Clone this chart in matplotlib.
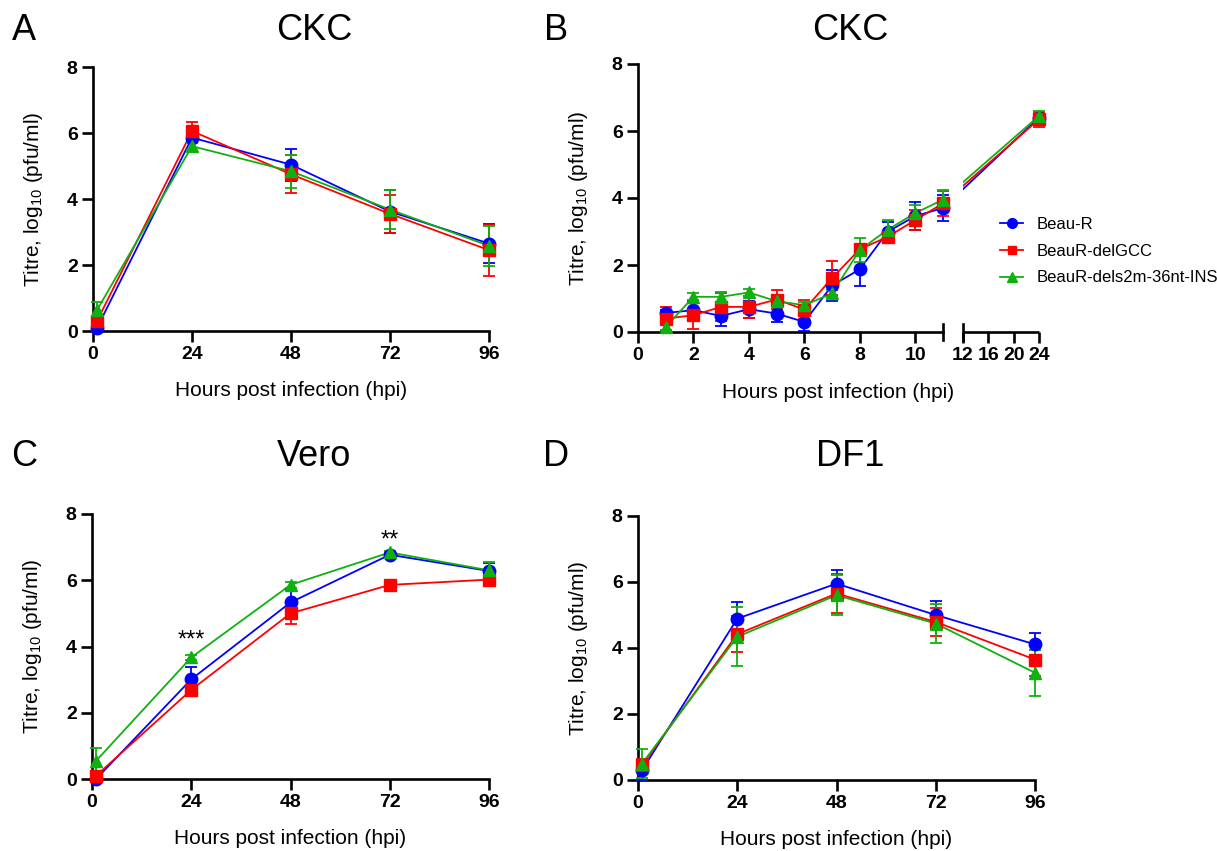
import numpy as np
import matplotlib
matplotlib.use("Agg")
import matplotlib.pyplot as plt

plt.rcParams["font.family"] = ["Liberation Sans", "DejaVu Sans"]
plt.rcParams["mathtext.default"] = "regular"

names = ["Beau-R", "BeauR-delGCC", "BeauR-dels2m-36nt-INS"]
colors = ["#0000FF", "#FF0000", "#10B010"]
markers = ["o", "s", "^"]
msizes = [9, 8, 8.5]

# hpi for the 0-96 h panels
t96 = [1, 24, 48, 72, 96]

# A: CKC
ckc_mean = [[0.10, 5.86, 5.04, 3.62, 2.65],
            [0.31, 6.06, 4.75, 3.55, 2.45],
            [0.64, 5.60, 4.84, 3.68, 2.58]]
ckc_err = [[0.10, 0.12, 0.48, 0.66, 0.60],
           [0.15, 0.26, 0.58, 0.58, 0.77],
           [0.25, 0.10, 0.50, 0.60, 0.60]]

# B: CKC, early time course
tB = [1, 2, 3, 4, 5, 6, 7, 8, 9, 10, 11, 24]
ckcB_mean = [[0.57, 0.65, 0.48, 0.68, 0.55, 0.30, 1.39, 1.87, 2.99, 3.46, 3.70, 6.40],
             [0.40, 0.50, 0.75, 0.75, 0.97, 0.67, 1.61, 2.47, 2.84, 3.34, 3.84, 6.35],
             [0.15, 1.05, 1.05, 1.18, 0.92, 0.80, 1.15, 2.45, 3.05, 3.55, 3.95, 6.45]]
ckcB_err = [[0.10, 0.27, 0.30, 0.25, 0.25, 0.28, 0.45, 0.49, 0.28, 0.43, 0.40, 0.12],
            [0.35, 0.40, 0.42, 0.33, 0.28, 0.28, 0.50, 0.12, 0.15, 0.30, 0.38, 0.22],
            [0.10, 0.10, 0.15, 0.10, 0.10, 0.10, 0.10, 0.37, 0.30, 0.25, 0.28, 0.15]]

# C: Vero
vero_mean = [[0.00, 3.01, 5.33, 6.77, 6.28],
             [0.10, 2.69, 5.00, 5.86, 6.02],
             [0.55, 3.67, 5.86, 6.84, 6.30]]
vero_err = [[0.05, 0.37, 0.40, 0.08, 0.25],
            [0.05, 0.15, 0.32, 0.05, 0.20],
            [0.38, 0.08, 0.08, 0.05, 0.25]]
vero_stars = [(24, 4.17, "***"), (72, 7.2, "**")]

# D: DF1
df1_mean = [[0.30, 4.89, 5.95, 5.00, 4.11],
            [0.45, 4.42, 5.65, 4.79, 3.65],
            [0.50, 4.34, 5.60, 4.74, 3.25]]
df1_err = [[0.30, 0.50, 0.42, 0.42, 0.33],
           [0.20, 0.55, 0.60, 0.42, 0.50],
           [0.45, 0.90, 0.60, 0.58, 0.70]]

W, H = 1217, 851
fig = plt.figure(figsize=(W / 100, H / 100), dpi=100)

SPINE = 1.9
TICKFS = 14
LABFS = 15


def px_axes(x0, x1, ytop, ybot):
    return fig.add_axes([x0 / W, 1 - ybot / H, (x1 - x0) / W, (ybot - ytop) / H])


def style(ax):
    for s in ["top", "right"]:
        ax.spines[s].set_visible(False)
    for s in ["left", "bottom"]:
        ax.spines[s].set_linewidth(SPINE)
    ax.tick_params(width=SPINE, length=8, direction="out", labelsize=TICKFS, pad=3)
    for lab in ax.get_xticklabels() + ax.get_yticklabels():
        lab.set_fontweight("bold")
    ax.set_ylim(0, 8)
    ax.set_yticks([0, 2, 4, 6, 8])
    ax.set_ylabel("Titre, log$_{10}$ (pfu/ml)", fontsize=LABFS)
    ax.set_xlabel("Hours post infection (hpi)", fontsize=LABFS)
    ax.yaxis.set_label_coords(-0.12, 0.5)
    ax.xaxis.set_label_coords(0.5, -0.19)


def draw_series(ax, x, means, errs):
    for i in [2, 1, 0]:
        ax.plot(x, means[i], color=colors[i], lw=1.3, zorder=2 + i * 0.01, clip_on=False)
    for i in [2, 1, 0]:
        ax.errorbar(x, means[i], yerr=errs[i], fmt=markers[i], color=colors[i],
                    ms=msizes[i], mec=colors[i], elinewidth=1.3, capsize=4.5,
                    capthick=1.3, zorder=3 + i * 0.01, clip_on=False)


def panel96(ax, means, errs):
    draw_series(ax, t96, means, errs)
    ax.set_xlim(0, 96)
    ax.set_xticks([0, 24, 48, 72, 96])
    style(ax)


axA = px_axes(93, 489, 67, 331)
panel96(axA, ckc_mean, ckc_err)

axC = px_axes(92, 489, 514, 779)
panel96(axC, vero_mean, vero_err)
for x, y, s in vero_stars:
    axC.text(x, y, s, ha="center", va="center", fontsize=17)

axD = px_axes(638, 1035, 516, 780)
panel96(axD, df1_mean, df1_err)

# B: broken x axis (0-11 | 12-24)
GAPW = 0.72
SQ = 0.2286


def fwd(x):
    x = np.asarray(x, float)
    return np.where(x <= 11, x,
                    np.where(x >= 12, 11 + GAPW + (x - 12) * SQ, 11 + (x - 11) * GAPW))


def inv(u):
    u = np.asarray(u, float)
    return np.where(u <= 11, u,
                    np.where(u >= 11 + GAPW, 12 + (u - 11 - GAPW) / SQ, 11 + (u - 11) / GAPW))


axB = px_axes(638, 1039, 64, 332)
axB.set_xscale("function", functions=(fwd, inv))
axB.set_xlim(0, 24)
draw_series(axB, tB, ckcB_mean, ckcB_err)
axB.axvspan(11, 12, color="white", zorder=2.5, lw=0)
axB.set_xticks([0, 2, 4, 6, 8, 10, 12, 16, 20, 24])
axB.set_xticklabels(["0", "2", "4", "6", "8", "10", "12", "16", "20", "24"])
style(axB)
axB.spines["bottom"].set_bounds(0, 11)
tr = axB.get_xaxis_transform()
axB.plot([12, 24], [0, 0], color="k", lw=SPINE, transform=tr, clip_on=False,
         solid_capstyle="butt", zorder=3.5)
for xc in [11, 12]:
    axB.plot([xc, xc], [-0.03, 0.03], color="k", lw=SPINE, transform=tr,
             clip_on=False, zorder=3.5)

handles = [plt.Line2D([], [], color=colors[i], marker=markers[i], ms=msizes[i] - 2,
                      lw=1.3) for i in range(3)]
fig.legend(handles, names, loc="upper left", bbox_to_anchor=(1000 / W, 1 - 217 / H),
           frameon=False, fontsize=12, handlelength=1.4, handletextpad=0.8,
           labelspacing=0.7, borderpad=0, borderaxespad=0)

# titles and panel letters
for (x, y, s) in [(314, 31, "CKC"), (850, 31, "CKC"), (314, 456, "Vero"), (850, 456, "DF1")]:
    fig.text(x / W, 1 - y / H, s, ha="center", va="center", fontsize=26)
for (x, y, s) in [(24, 31, "A"), (556, 31, "B"), (24, 456, "C"), (556, 456, "D")]:
    fig.text(x / W, 1 - y / H, s, ha="center", va="center", fontsize=26)

fig.savefig("out.png", dpi=100)
